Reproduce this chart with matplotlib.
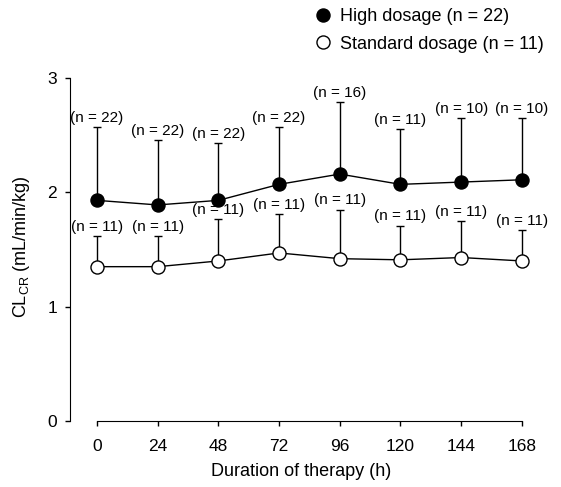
import numpy as np
import matplotlib
matplotlib.use("Agg")
import matplotlib.pyplot as plt
from matplotlib.lines import Line2D

plt.rcParams['font.family'] = ['Liberation Sans', 'DejaVu Sans']
plt.rcParams['mathtext.fontset'] = 'custom'
plt.rcParams['mathtext.rm'] = 'Liberation Sans'

hours = [0, 24, 48, 72, 96, 120, 144, 168]
high_mean = [1.93, 1.89, 1.93, 2.07, 2.16, 2.07, 2.09, 2.11]
high_sd = [0.64, 0.57, 0.50, 0.50, 0.63, 0.48, 0.56, 0.54]
high_n = [22, 22, 22, 22, 16, 11, 10, 10]
std_mean = [1.35, 1.35, 1.40, 1.47, 1.42, 1.41, 1.43, 1.40]
std_sd = [0.27, 0.27, 0.37, 0.34, 0.43, 0.30, 0.32, 0.27]
std_n = [11, 11, 11, 11, 11, 11, 11, 11]

fig = plt.figure(figsize=(5.61, 4.87), dpi=100)
ax = fig.add_axes([0.1248, 0.1355, 0.8235, 0.716])

for mean, sd, n, face in [(high_mean, high_sd, high_n, 'black'),
                          (std_mean, std_sd, std_n, 'white')]:
    mean = np.array(mean)
    sd = np.array(sd)
    ax.errorbar(hours, mean, yerr=[np.zeros_like(sd), sd], fmt='none',
                ecolor='black', elinewidth=1, capsize=2.7, capthick=1, zorder=2)
    ax.plot(hours, mean, '-', color='black', lw=1, marker='o', ms=9.4,
            mfc=face, mec='black', mew=1, zorder=3)
    for x, top, k in zip(hours, mean + sd, n):
        ax.annotate(f'(n = {k})', (x, top), xytext=(0, 6.5), textcoords='offset points',
                    ha='center', va='center', fontsize=11)

ax.set_xlim(-10.67, 172)
ax.set_ylim(0, 3.05)
ax.set_xticks(hours)
ax.set_yticks([0, 1, 2, 3])
ax.spines['top'].set_visible(False)
ax.spines['right'].set_visible(False)
ax.spines['left'].set_bounds(0, 3)
ax.spines['bottom'].set_bounds(0, 168)
ax.tick_params(axis='both', direction='out', length=3.8, width=1, labelsize=12.5)
ax.tick_params(axis='x', pad=9.5)
ax.tick_params(axis='y', pad=5.5)
ax.set_xlabel('Duration of therapy (h)', fontsize=13, labelpad=6)
ax.set_ylabel(r'CL$_{\mathregular{CR}}$ (mL/min/kg)', fontsize=13, labelpad=11)

handles = [Line2D([], [], ls='none', marker='o', ms=9.4, mfc='black', mec='black'),
           Line2D([], [], ls='none', marker='o', ms=9.4, mfc='white', mec='black')]
fig.legend(handles, ['High dosage (n = 22)', 'Standard dosage (n = 11)'],
           loc='upper left', bbox_to_anchor=(0.5597, 0.9826), frameon=False,
           borderpad=0, borderaxespad=0, fontsize=13, handlelength=1,
           handletextpad=0.44, labelspacing=0.57)

fig.savefig('out.png', dpi=100)
